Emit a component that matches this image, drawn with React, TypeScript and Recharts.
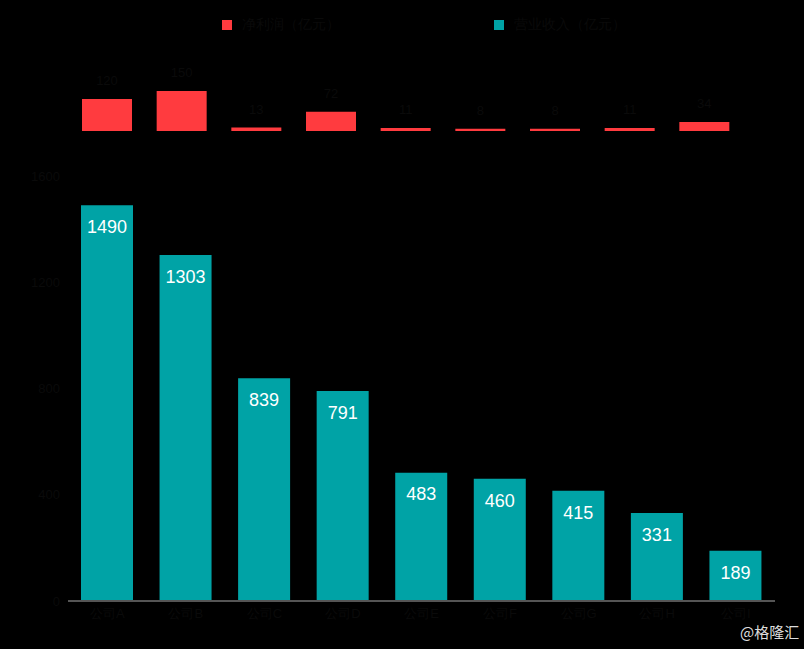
import React from "react"
import { BarChart, Bar, XAxis, YAxis, LabelList } from "recharts"

const companies = ["公司A", "公司B", "公司C", "公司D", "公司E", "公司F", "公司G", "公司H", "公司I"]
const revenue = [1490, 1303, 839, 791, 483, 460, 415, 331, 189]
const profit = [120, 150, 13, 72, 11, 8, 8, 11, 34]
const yTicks = [0, 400, 800, 1200, 1600]

const legendProfit = "净利润（亿元）"
const legendRevenue = "营业收入（亿元）"

const data = companies.map((name, i) => ({ name, revenue: revenue[i], profit: profit[i] }))

const dark = "#0a0a0a"
const red = "#ff3b3f"
const teal = "#00a3a6"

export default function App() {
  return (
    <div style={{ position: "absolute", left: 0, top: 0, width: 804, height: 649, background: "#000", overflow: "hidden", fontFamily: "'Liberation Sans', Arial, sans-serif" }}>
      {/* legend */}
      <div style={{ position: "absolute", left: 222, top: 16, display: "flex", alignItems: "center", fontSize: 14, color: dark }}>
        <span style={{ width: 10, height: 10, background: red, marginRight: 10 }} />
        {legendProfit}
      </div>
      <div style={{ position: "absolute", left: 494, top: 16, display: "flex", alignItems: "center", fontSize: 14, color: dark }}>
        <span style={{ width: 10, height: 10, background: teal, marginRight: 10 }} />
        {legendRevenue}
      </div>

      {/* top: profit */}
      <div style={{ position: "absolute", left: 0, top: 0 }}>
        <BarChart width={804} height={140} data={data} margin={{ top: 51, right: 62, left: 70, bottom: 9 }}>
          <XAxis dataKey="name" hide />
          <YAxis hide domain={[0, 300]} />
          <Bar dataKey="profit" fill={red} barSize={50} isAnimationActive={false}>
            <LabelList dataKey="profit" position="top" offset={14} fill={dark} fontSize={13} />
          </Bar>
        </BarChart>
      </div>

      {/* bottom: revenue */}
      <div style={{ position: "absolute", left: 0, top: 0 }}>
        <BarChart width={804} height={649} data={data} margin={{ top: 176, right: 29, left: 8, bottom: 18 }}>
          <XAxis dataKey="name" height={30} tickLine={false} axisLine={{ stroke: "#555", strokeWidth: 2 }} tick={{ fill: dark, fontSize: 13 }} />
          <YAxis width={60} domain={[0, 1600]} ticks={yTicks} axisLine={false} tickLine={false} tick={{ fill: dark, fontSize: 13 }} />
          <Bar dataKey="revenue" fill={teal} barSize={52} isAnimationActive={false}>
            <LabelList dataKey="revenue" position="insideTop" offset={15} fill="#fff" fontSize={18} />
          </Bar>
        </BarChart>
      </div>

      <div style={{ position: "absolute", left: 740, top: 622, fontSize: 15, color: "#ddd", fontFamily: "'Noto Sans CJK SC', sans-serif", lineHeight: "20px" }}>
        @格隆汇
      </div>
    </div>
  )
}
